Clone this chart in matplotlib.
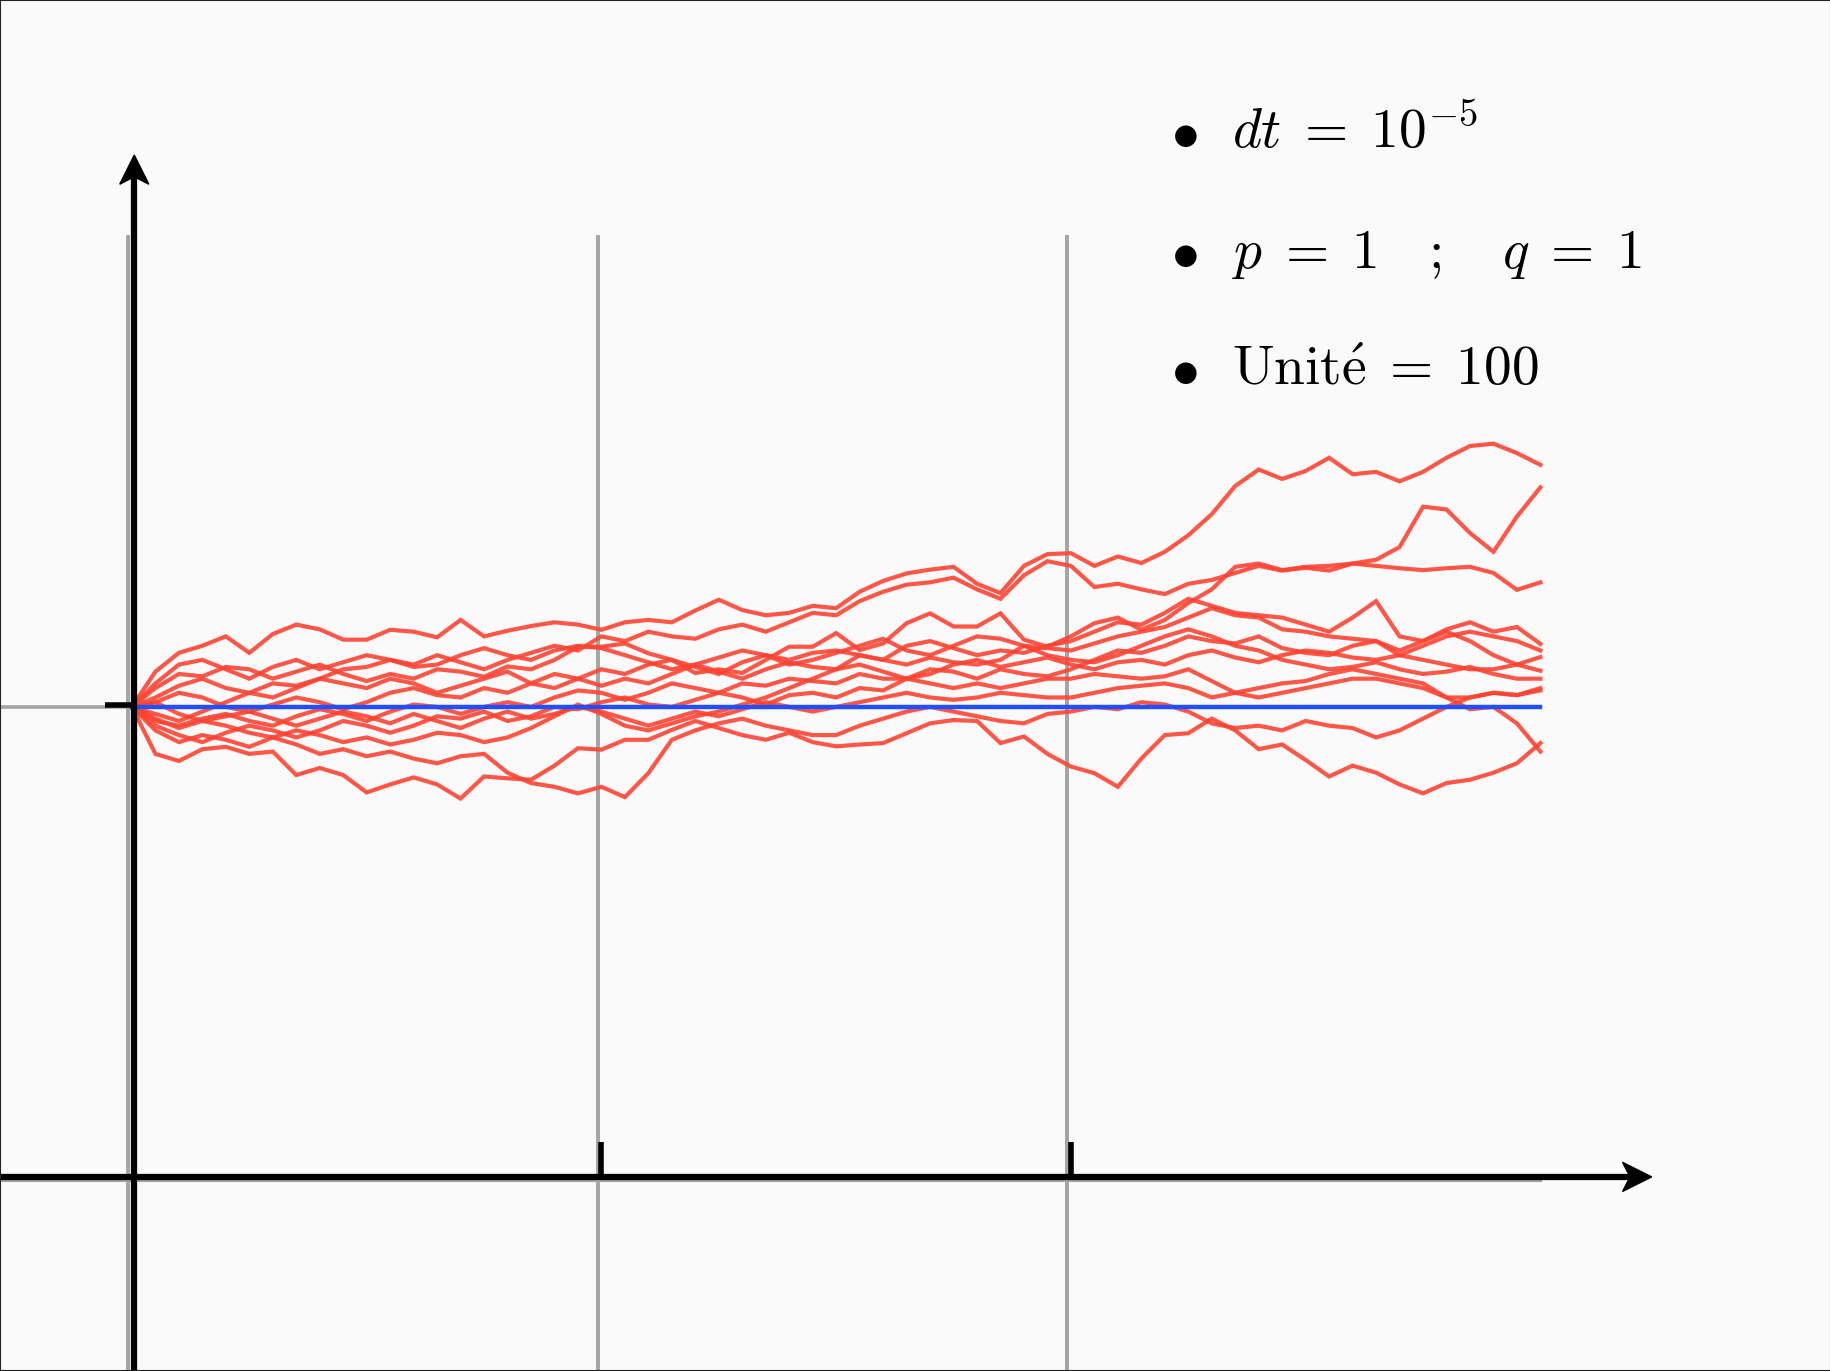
import numpy as np
import matplotlib
matplotlib.use("Agg")
import matplotlib.pyplot as plt
from matplotlib.patches import Polygon, Rectangle

plt.rcParams['mathtext.fontset'] = 'cm'

# time grid of the sampled trajectories (0 -> 3, every 0.05)
t = np.linspace(0, 3, 61)

# sampled trajectories (value 1 = starting level)
path_a = [1.000, 1.075, 1.115, 1.130, 1.150, 1.115, 1.155, 1.175, 1.165, 1.143,
          1.143, 1.164, 1.160, 1.148, 1.185, 1.150, 1.162, 1.172, 1.180, 1.175,
          1.164, 1.180, 1.185, 1.180, 1.205, 1.228, 1.206, 1.195, 1.200, 1.215,
          1.210, 1.245, 1.268, 1.284, 1.292, 1.298, 1.262, 1.242, 1.300, 1.325,
          1.327, 1.300, 1.320, 1.306, 1.330, 1.365, 1.410, 1.470, 1.505, 1.485,
          1.502, 1.530, 1.495, 1.500, 1.480, 1.500, 1.530, 1.555, 1.560, 1.540,
          1.515]
path_b = [1.000, 1.040, 1.070, 1.065, 1.085, 1.080, 1.060, 1.075, 1.090, 1.070,
          1.055, 1.070, 1.060, 1.080, 1.075, 1.064, 1.086, 1.080, 1.100, 1.128,
          1.128, 1.135, 1.114, 1.100, 1.072, 1.080, 1.072, 1.100, 1.128, 1.128,
          1.157, 1.121, 1.135, 1.178, 1.199, 1.171, 1.171, 1.199, 1.143, 1.128,
          1.150, 1.178, 1.190, 1.164, 1.185, 1.221, 1.250, 1.298, 1.305, 1.291,
          1.298, 1.300, 1.305, 1.313, 1.340, 1.426, 1.420, 1.370, 1.330, 1.405,
          1.467]
path_c = [1.000, 1.020, 1.045, 1.060, 1.040, 1.030, 1.050, 1.045, 1.060, 1.080,
          1.085, 1.100, 1.090, 1.110, 1.095, 1.080, 1.100, 1.115, 1.130, 1.120,
          1.150, 1.140, 1.160, 1.150, 1.145, 1.165, 1.175, 1.160, 1.180, 1.200,
          1.195, 1.225, 1.245, 1.260, 1.265, 1.275, 1.250, 1.230, 1.280, 1.310,
          1.300, 1.255, 1.262, 1.250, 1.240, 1.262, 1.270, 1.285, 1.300, 1.290,
          1.296, 1.290, 1.305, 1.300, 1.295, 1.291, 1.295, 1.298, 1.285, 1.249,
          1.265]
path_d = [1.000, 0.985, 0.970, 0.990, 1.010, 1.030, 1.020, 1.040, 1.060, 1.050,
          1.040, 1.060, 1.050, 1.030, 1.045, 1.060, 1.075, 1.050, 1.040, 1.060,
          1.080, 1.070, 1.090, 1.100, 1.085, 1.070, 1.095, 1.110, 1.100, 1.115,
          1.120, 1.110, 1.100, 1.130, 1.140, 1.125, 1.110, 1.120, 1.115, 1.130,
          1.140, 1.160, 1.180, 1.175, 1.200, 1.230, 1.215, 1.200, 1.195, 1.190,
          1.175, 1.160, 1.190, 1.225, 1.150, 1.140, 1.165, 1.180, 1.160, 1.170,
          1.134]
path_e = [1.000, 1.010, 1.030, 1.020, 1.000, 0.990, 1.005, 1.020, 1.010, 0.995,
          1.010, 1.030, 1.040, 1.025, 1.020, 1.040, 1.030, 1.050, 1.070, 1.060,
          1.045, 1.060, 1.050, 1.070, 1.090, 1.075, 1.060, 1.080, 1.095, 1.085,
          1.080, 1.110, 1.100, 1.090, 1.105, 1.095, 1.090, 1.100, 1.130, 1.125,
          1.120, 1.135, 1.150, 1.160, 1.170, 1.190, 1.210, 1.195, 1.190, 1.165,
          1.160, 1.150, 1.145, 1.140, 1.120, 1.140, 1.160, 1.140, 1.110, 1.090,
          1.106]
path_f = [1.000, 0.970, 0.960, 0.975, 0.985, 0.970, 0.960, 0.980, 0.995, 0.985,
          0.970, 0.990, 1.005, 1.000, 0.985, 1.000, 1.010, 1.000, 1.020, 1.035,
          1.030, 1.015, 1.030, 1.050, 1.040, 1.030, 1.050, 1.045, 1.060, 1.055,
          1.050, 1.070, 1.060, 1.060, 1.080, 1.075, 1.060, 1.080, 1.070, 1.065,
          1.080, 1.100, 1.120, 1.115, 1.130, 1.150, 1.140, 1.135, 1.150, 1.125,
          1.115, 1.110, 1.130, 1.140, 1.110, 1.100, 1.090, 1.080, 1.080, 1.090,
          1.077]
path_g = [1.000, 0.960, 0.940, 0.925, 0.945, 0.960, 0.950, 0.935, 0.950, 0.970,
          0.960, 0.945, 0.960, 0.980, 0.975, 0.990, 0.970, 0.980, 1.000, 0.995,
          1.010, 1.020, 1.005, 1.000, 1.015, 1.030, 1.020, 1.005, 1.025, 1.030,
          1.020, 1.040, 1.035, 1.060, 1.050, 1.040, 1.050, 1.040, 1.050, 1.060,
          1.060, 1.070, 1.065, 1.060, 1.065, 1.080, 1.055, 1.030, 1.020, 1.030,
          1.040, 1.050, 1.060, 1.060, 1.050, 1.040, 1.020, 1.020, 1.030, 1.025,
          1.040]
path_h = [1.000, 0.900, 0.885, 0.910, 0.915, 0.900, 0.905, 0.855, 0.870, 0.855,
          0.818, 0.835, 0.850, 0.835, 0.805, 0.852, 0.848, 0.845, 0.875, 0.912,
          0.909, 0.930, 0.930, 0.951, 0.970, 0.955, 0.940, 0.930, 0.945, 0.925,
          0.916, 0.920, 0.923, 0.944, 0.965, 0.972, 0.970, 0.923, 0.937, 0.900,
          0.873, 0.859, 0.830, 0.890, 0.940, 0.944, 0.975, 0.950, 0.910, 0.920,
          0.887, 0.852, 0.875, 0.860, 0.835, 0.816, 0.838, 0.845, 0.860, 0.880,
          0.923]
path_i = [1.000, 0.975, 0.955, 0.970, 0.980, 0.990, 0.975, 0.960, 0.975, 0.990,
          0.980, 0.965, 0.985, 0.970, 0.955, 0.975, 0.990, 0.975, 0.985, 1.000,
          0.990, 0.975, 0.960, 0.975, 0.990, 0.980, 0.995, 1.010, 1.000, 0.990,
          1.000, 1.010, 1.020, 1.030, 1.020, 1.015, 1.020, 1.030, 1.025, 1.020,
          1.020, 1.030, 1.040, 1.045, 1.050, 1.040, 1.020, 1.030, 1.040, 1.050,
          1.055, 1.070, 1.080, 1.070, 1.060, 1.050, 1.020, 0.995, 1.000, 0.965,
          0.905]
path_k = [1.000, 0.950, 0.925, 0.940, 0.930, 0.915, 0.935, 0.920, 0.900, 0.910,
          0.895, 0.905, 0.890, 0.880, 0.895, 0.900, 0.860, 0.838, 0.830, 0.816,
          0.830, 0.808, 0.859, 0.930, 0.950, 0.965, 0.975, 0.960, 0.950, 0.940,
          0.940, 0.960, 0.975, 0.990, 1.000, 0.990, 0.980, 0.970, 0.965, 0.985,
          0.990, 1.000, 0.995, 1.010, 1.005, 0.990, 0.965, 0.955, 0.960, 0.950,
          0.970, 0.960, 0.955, 0.935, 0.950, 0.975, 1.000, 1.020, 1.030, 1.025,
          1.035]
path_m = [1.000, 1.050, 1.090, 1.100, 1.080, 1.060, 1.085, 1.100, 1.080, 1.095,
          1.110, 1.100, 1.085, 1.090, 1.110, 1.125, 1.110, 1.100, 1.120, 1.130,
          1.125, 1.110, 1.095, 1.080, 1.090, 1.105, 1.120, 1.110, 1.090, 1.100,
          1.115, 1.130, 1.145, 1.120, 1.110, 1.130, 1.150, 1.145, 1.130, 1.110,
          1.100, 1.095, 1.110, 1.130, 1.150, 1.165, 1.150, 1.130, 1.120, 1.100,
          1.090, 1.080, 1.085, 1.095, 1.080, 1.070, 1.075, 1.085, 1.070, 1.060,
          1.060]
path_n = [1.000, 1.010, 0.985, 0.970, 0.960, 0.945, 0.935, 0.950, 0.940, 0.925,
          0.935, 0.920, 0.930, 0.945, 0.940, 0.925, 0.935, 0.955, 0.980, 1.005,
          0.985, 0.960, 0.950, 0.965, 0.980, 0.990, 1.005, 1.020, 1.040, 1.060,
          1.080, 1.090, 1.075, 1.060, 1.070, 1.090, 1.100, 1.085, 1.095, 1.105,
          1.090, 1.080, 1.095, 1.100, 1.090, 1.110, 1.120, 1.105, 1.095, 1.110,
          1.120, 1.115, 1.105, 1.100, 1.110, 1.130, 1.150, 1.160, 1.150, 1.140,
          1.120]

paths = [path_a, path_b, path_c, path_d, path_e, path_f,
         path_g, path_h, path_i, path_k, path_m, path_n]

start_level = 1.0
grid_x = [0, 1, 2]
labels = [r'$dt\;=\;10^{-5}$', r'$p\;=\;1 \quad ; \quad q\;=\;1$',
          r'$\mathrm{Unit\acute{e}}\;=\;100$']

fig = plt.figure(figsize=(18.31, 13.71), dpi=100, facecolor='#fafafa')
ax = fig.add_axes([0, 0, 1, 1])
ax.set_facecolor('#fafafa')
ax.set_xlim(-0.281, 3.619)
ax.set_ylim(-0.413, 2.504)
ax.axis('off')

# light grid
grid_col = '#a4a4a4'
for gx in grid_x:
    ax.plot([gx - 0.008, gx - 0.008], [-0.5, 2.0], color=grid_col, lw=2.8, zorder=1)
ax.plot([-0.3, 3.0], [start_level, start_level], color=grid_col, lw=2.6, zorder=1)
ax.plot([-0.3, 3.0], [-0.006, -0.006], color=grid_col, lw=3.0, zorder=1)

# simulated trajectories
for p in paths:
    ax.plot(t, p, color='#ff4433', lw=3.0, alpha=0.9, zorder=2,
            solid_joinstyle='miter')

# starting level
ax.plot([0, 3.0], [start_level, start_level], color='#1f4fff', lw=3.2, zorder=3)

# axes with arrow heads
ax.plot([-0.3, 3.19], [0, 0], color='k', lw=4.5, zorder=4, solid_capstyle='butt')
ax.plot([0.005, 0.005], [-0.5, 2.13], color='k', lw=4.5, zorder=4, solid_capstyle='butt')
hl, hw, nt = 0.062, 0.031, 0.016
ax.add_patch(Polygon([[3.237, 0], [3.237 - hl, hw], [3.237 - hl + nt, 0], [3.237 - hl, -hw]],
                     closed=True, color='k', zorder=5))
ax.add_patch(Polygon([[0.005, 2.174], [0.005 - hw, 2.174 - hl], [0.005, 2.174 - hl + nt],
                      [0.005 + hw, 2.174 - hl]], closed=True, color='k', zorder=5))

# ticks
for gx in grid_x[1:]:
    ax.plot([gx, gx], [0, 0.075], color='k', lw=4.0, zorder=4, solid_capstyle='butt')
ax.plot([-0.057, 0.005], [start_level + 0.004, start_level + 0.004], color='k', lw=4.0,
        zorder=4, solid_capstyle='butt')

# parameter list
for yb, lab in zip([2.189, 1.934, 1.685], labels):
    ax.text(2.213, yb, r'$\bullet$', fontsize=40, ha='left', va='baseline', zorder=6)
    ax.text(2.343, yb, lab, fontsize=40, ha='left', va='baseline', zorder=6)

fig.patches.append(Rectangle((0, 0), 1, 1, transform=fig.transFigure, fill=False,
                             edgecolor='#222222', lw=1.5))

fig.savefig('out.png', dpi=100, facecolor=fig.get_facecolor())
